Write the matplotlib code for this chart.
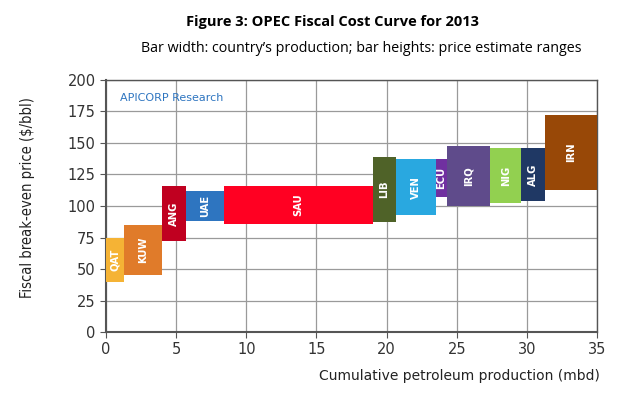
import matplotlib
matplotlib.use("Agg")
import matplotlib.pyplot as plt
from matplotlib.patches import Rectangle

countries = ["QAT", "KUW", "ANG", "UAE", "SAU", "LIB", "VEN", "ECU", "IRQ", "NIG", "ALG", "IRN"]
production = [1.3, 2.7, 1.7, 2.7, 10.6, 1.7, 2.8, 0.8, 3.1, 2.2, 1.7, 3.7]
price_low = [40, 45, 72, 88, 86, 87, 93, 107, 100, 102, 104, 113]
price_high = [75, 85, 116, 112, 116, 139, 137, 137, 148, 146, 146, 172]
colors = ["#F5B335", "#E07B2A", "#C00020", "#2E75C0", "#FF0022", "#4F6228",
          "#29A8E0", "#7030A0", "#5F4B8B", "#92D050", "#1F3864", "#984807"]
xticks = [0, 5, 10, 15, 20, 25, 30, 35]
yticks = [0, 25, 50, 75, 100, 125, 150, 175, 200]

fig = plt.figure(figsize=(6.2, 3.96), dpi=100)
ax = fig.add_axes([0.171, 0.1616, 0.792, 0.6364])

x0 = 0.0
for c, w, lo, hi, col in zip(countries, production, price_low, price_high, colors):
    ax.add_patch(Rectangle((x0, lo), w, hi - lo, facecolor=col, edgecolor="none", zorder=3))
    ax.text(x0 + w / 2, (lo + hi) / 2, c, rotation=90, ha="center", va="center",
            color="white", fontsize=8, fontweight="bold", family="DejaVu Sans",
            fontstretch="condensed", zorder=4)
    x0 += w

ax.set_xlim(0, 35)
ax.set_ylim(0, 200)
ax.set_xticks(xticks)
ax.set_yticks(yticks)
ax.grid(True, color="#9A9A9A", linewidth=0.9, zorder=0)
for s in ax.spines.values():
    s.set_color("#555555")
    s.set_linewidth(1.0)
ax.spines["left"].set_linewidth(1.5)
ax.spines["bottom"].set_linewidth(1.5)
ax.tick_params(axis="both", labelsize=10.5, length=4, color="#555555", labelcolor="#333333")

ax.text(1.0, 186, "APICORP Research", color="#2E75C0", fontsize=8, va="center", ha="left")

fig.text(0.045, 0.5, "Fiscal break-even price ($/bbl)", rotation=90, ha="center", va="center",
         fontsize=10.5, family="DejaVu Sans", fontstretch="condensed", color="#222222")
fig.text(0.968, 0.05, "Cumulative petroleum production (mbd)", ha="right", va="center",
         fontsize=10, color="#222222")
fig.text(0.537, 0.945, "Figure 3: OPEC Fiscal Cost Curve for 2013", ha="center", va="center",
         fontsize=10.5, fontweight="bold", family=["Open Sans", "DejaVu Sans"])
fig.text(0.583, 0.878, "Bar width: country\u2019s production; bar heights: price estimate ranges",
         ha="center", va="center", fontsize=10.3, family=["Open Sans", "DejaVu Sans"])

fig.savefig("out.png", dpi=100)
